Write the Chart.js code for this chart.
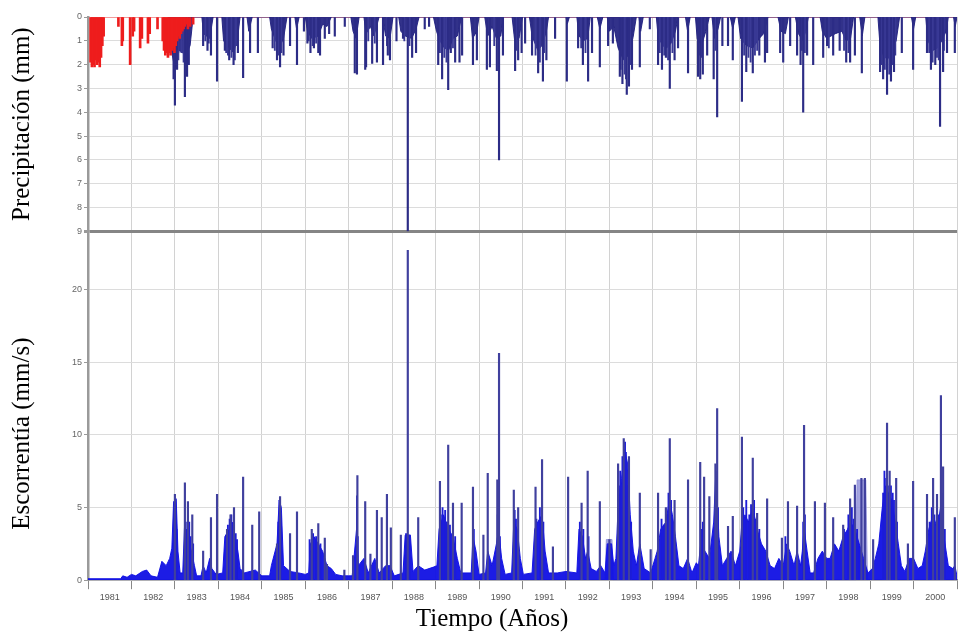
<!DOCTYPE html>
<html>
<head>
<meta charset="utf-8">
<title>Precipitación y escorrentía 1981-2000</title>
<script src="https://cdn.jsdelivr.net/npm/chart.js@4.4.1/dist/chart.umd.min.js"></script>
<style>
  html, body { margin: 0; padding: 0; background: #fff; }
  #wrap { width: 962px; height: 640px; }
</style>
</head>
<body>
<div id="wrap"><canvas id="hydro" width="962" height="640"></canvas></div>
<script>
// [year, value] pairs. Rain in mm (drawn downward), runoff in mm/s.
const yearLabels = [1981, 1982, 1983, 1984, 1985, 1986, 1987, 1988, 1989, 1990,
  1991, 1992, 1993, 1994, 1995, 1996, 1997, 1998, 1999, 2000];
const rainTicks = [0, 1, 2, 3, 4, 5, 6, 7, 8, 9];
const flowTicks = [0, 5, 10, 15, 20];

// warm-up period rain
const rainWarmup = [
  [1981.06, 1.9], [1981.09, 2.1], [1981.12, 2.0], [1981.15, 2.1], [1981.18, 1.8], [1981.21, 2.0],
  [1981.24, 1.9], [1981.27, 2.1], [1981.30, 1.7], [1981.33, 1.2], [1981.36, 0.8],
  [1981.70, 0.4], [1981.78, 1.2], [1981.80, 1.0], [1981.97, 2.0], [1982.03, 0.8], [1982.06, 0.6],
  [1982.20, 1.3], [1982.24, 0.9], [1982.38, 1.1], [1982.42, 0.7], [1982.60, 0.5],
  [1982.72, 1.0], [1982.75, 1.4], [1982.78, 1.6], [1982.81, 1.5], [1982.84, 1.7], [1982.87, 1.5],
  [1982.90, 1.6], [1982.93, 1.4], [1982.96, 1.3], [1982.99, 1.5], [1983.02, 1.2], [1983.05, 1.0],
  [1983.08, 0.8], [1983.11, 0.9], [1983.14, 0.7], [1983.17, 0.6], [1983.20, 0.5], [1983.23, 0.4],
  [1983.27, 0.3], [1983.30, 0.5], [1983.35, 0.4], [1983.42, 0.3]
];

// daily rain peaks
const rainPeaks = [
  [1982.97, 2.6], [1983.00, 3.7], [1983.05, 2.2], [1983.23, 3.35], [1983.28, 2.5], [1983.32, 2.0],
  [1983.65, 1.2], [1983.75, 1.4], [1983.83, 1.6], [1983.97, 2.7], [1984.15, 1.4], [1984.25, 1.8],
  [1984.35, 2.0], [1984.45, 1.5], [1984.57, 2.55], [1984.73, 1.5], [1984.91, 1.5], [1985.25, 1.3],
  [1985.35, 1.8], [1985.42, 2.1], [1985.50, 1.6], [1985.65, 1.2], [1985.81, 2.0], [1985.97, 0.6],
  [1986.05, 1.1], [1986.12, 1.5], [1986.20, 1.3], [1986.30, 1.5], [1986.34, 1.6], [1986.45, 0.9],
  [1986.55, 0.7], [1986.68, 0.8], [1986.91, 0.4],
  [1987.14, 2.35], [1987.19, 2.4], [1987.38, 2.2], [1987.40, 2.1], [1987.54, 1.95], [1987.65, 1.9],
  [1987.79, 2.0], [1987.90, 1.6], [1987.95, 1.8], [1988.10, 1.0], [1988.25, 0.9], [1988.36, 9.0],
  [1988.46, 1.7], [1988.55, 1.5], [1988.75, 0.5], [1988.85, 0.4],
  [1989.06, 2.0], [1989.15, 2.6], [1989.29, 3.05], [1989.35, 1.5], [1989.45, 1.9], [1989.55, 1.9],
  [1989.61, 1.6], [1989.86, 2.0], [1989.95, 1.8], [1990.18, 2.2], [1990.25, 2.1], [1990.41, 2.25],
  [1990.46, 6.0], [1990.55, 1.6], [1990.83, 2.25], [1990.90, 1.8], [1990.98, 1.5],
  [1991.06, 1.1], [1991.22, 1.6], [1991.36, 2.35], [1991.47, 2.7], [1991.55, 1.8], [1991.75, 0.9],
  [1992.02, 2.7], [1992.28, 1.3], [1992.39, 2.0], [1992.51, 2.7], [1992.60, 1.5], [1992.78, 2.1],
  [1992.97, 1.2], [1993.08, 1.1], [1993.24, 2.5], [1993.30, 2.8], [1993.40, 3.25], [1993.45, 2.9],
  [1993.52, 2.2], [1993.70, 2.1], [1993.93, 0.5],
  [1994.12, 2.0], [1994.21, 2.2], [1994.30, 1.7], [1994.39, 3.0], [1994.50, 1.8], [1994.58, 1.3],
  [1994.81, 2.35], [1995.04, 2.5], [1995.09, 2.6], [1995.15, 2.4], [1995.25, 1.6], [1995.40, 2.6],
  [1995.48, 4.2], [1995.60, 1.2], [1995.73, 1.2], [1995.84, 1.8], [1996.05, 3.55], [1996.15, 2.3],
  [1996.30, 2.35], [1996.45, 1.6], [1996.58, 1.9], [1996.63, 1.5], [1996.93, 1.5], [1997.00, 1.9],
  [1997.16, 1.2], [1997.32, 1.6], [1997.40, 2.0], [1997.46, 4.0], [1997.55, 1.6], [1997.69, 2.0],
  [1997.92, 1.7], [1998.01, 1.2], [1998.15, 1.6], [1998.30, 1.4], [1998.45, 1.9], [1998.54, 1.9],
  [1998.65, 1.6], [1998.81, 2.35], [1999.23, 2.3], [1999.30, 2.6], [1999.39, 3.25], [1999.48, 2.7],
  [1999.55, 2.3], [1999.73, 1.5], [1999.99, 2.2], [2000.31, 1.5], [2000.40, 2.2], [2000.50, 2.0],
  [2000.61, 4.6], [2000.68, 2.3], [2000.77, 1.5], [2000.95, 1.5]
];

// smaller rain days inside the wet spells
const rainMinor = [
  [1983.02, 2.0], [1983.08, 1.8], [1983.15, 1.5], [1983.20, 1.9], [1983.26, 2.0], [1983.30, 1.8],
  [1983.70, 1.0], [1983.78, 1.1], [1984.18, 1.5], [1984.22, 1.6], [1984.30, 1.7], [1984.38, 1.8],
  [1984.42, 1.2], [1985.30, 1.4], [1985.38, 1.6], [1985.45, 1.5], [1986.08, 1.0], [1986.17, 1.2],
  [1986.25, 1.1], [1987.45, 1.0], [1987.60, 1.1], [1987.88, 1.2], [1988.28, 1.0], [1988.40, 1.2],
  [1989.10, 1.5], [1989.20, 1.7], [1989.25, 1.9], [1989.40, 1.3], [1990.35, 1.2], [1990.86, 1.4],
  [1991.30, 1.6], [1991.40, 1.9], [1991.50, 1.5], [1992.35, 1.3], [1992.45, 1.5], [1993.26, 2.2],
  [1993.35, 2.4], [1993.38, 2.6], [1993.48, 2.0], [1994.16, 1.5], [1994.26, 1.6], [1994.35, 1.8],
  [1994.45, 1.5], [1995.06, 1.6], [1995.12, 1.7], [1995.44, 1.4], [1996.10, 1.6], [1996.20, 1.7],
  [1996.25, 1.9], [1996.35, 1.6], [1996.40, 1.4], [1997.43, 1.4], [1997.50, 1.5], [1998.05, 1.3],
  [1998.40, 1.4], [1998.50, 1.5], [1999.26, 2.0], [1999.34, 2.2], [1999.44, 2.4], [1999.52, 2.0],
  [1999.58, 1.6], [2000.36, 1.5], [2000.44, 1.9], [2000.54, 1.7], [2000.58, 1.8], [2000.70, 1.4]
];

// rain envelope of the wet spells
const rainBulk = [
  [1982.85, 0], [1982.90, 1.2], [1983.00, 2.2], [1983.10, 1.4], [1983.25, 1.6], [1983.35, 1.2], [1983.42, 0],
  [1983.62, 0], [1983.66, 0.7], [1983.80, 0.9], [1983.88, 0],
  [1984.08, 0], [1984.12, 1.0], [1984.25, 1.3], [1984.35, 1.5], [1984.45, 0.8], [1984.50, 0],
  [1984.66, 0], [1984.70, 0.6], [1984.78, 0],
  [1985.18, 0], [1985.22, 0.5], [1985.32, 1.0], [1985.40, 1.3], [1985.50, 0.9], [1985.58, 0],
  [1985.76, 0], [1985.80, 0.5], [1985.86, 0],
  [1986.00, 0], [1986.05, 0.6], [1986.15, 0.9], [1986.30, 0.8], [1986.40, 0.3], [1986.50, 0.4], [1986.60, 0],
  [1987.05, 0], [1987.10, 0.6], [1987.17, 0.9], [1987.24, 0],
  [1987.35, 0], [1987.40, 0.7], [1987.50, 0.4], [1987.58, 0.8], [1987.70, 0],
  [1987.78, 0], [1987.85, 0.8], [1987.95, 0.9], [1988.02, 0],
  [1988.15, 0], [1988.20, 0.6], [1988.30, 0.8], [1988.45, 0.9], [1988.55, 0.5], [1988.62, 0],
  [1988.95, 0], [1989.02, 0.6], [1989.10, 1.0], [1989.20, 1.3], [1989.30, 1.4], [1989.40, 0.9], [1989.50, 0.8], [1989.60, 0],
  [1989.80, 0], [1989.85, 0.9], [1989.95, 0.6], [1990.00, 0],
  [1990.13, 0], [1990.20, 0.8], [1990.30, 0.4], [1990.40, 0.9], [1990.50, 0.8], [1990.56, 0],
  [1990.76, 0], [1990.82, 1.0], [1990.92, 0.9], [1991.00, 0],
  [1991.16, 0], [1991.22, 0.8], [1991.35, 1.4], [1991.45, 1.2], [1991.55, 0.6], [1991.60, 0],
  [1992.00, 0], [1992.03, 0.3], [1992.08, 0],
  [1992.25, 0], [1992.30, 0.8], [1992.40, 1.0], [1992.50, 0.9], [1992.56, 0],
  [1992.72, 0], [1992.78, 0.5], [1992.85, 0],
  [1992.95, 0], [1993.00, 0.6], [1993.10, 0.4], [1993.20, 1.3], [1993.32, 1.8], [1993.45, 1.6], [1993.55, 0.8], [1993.62, 0],
  [1993.68, 0], [1993.72, 0.6], [1993.78, 0],
  [1994.08, 0], [1994.12, 0.8], [1994.22, 1.2], [1994.32, 1.3], [1994.42, 1.1], [1994.52, 0.6], [1994.58, 0],
  [1994.75, 0], [1994.80, 0.6], [1994.86, 0],
  [1994.98, 0], [1995.02, 0.9], [1995.12, 1.2], [1995.22, 0.6], [1995.30, 0],
  [1995.36, 0], [1995.42, 0.9], [1995.50, 0.5], [1995.56, 0],
  [1995.78, 0], [1995.84, 0.5], [1995.90, 0],
  [1995.96, 0], [1996.02, 0.9], [1996.15, 1.2], [1996.30, 1.3], [1996.45, 0.9], [1996.55, 0.7], [1996.65, 0],
  [1996.88, 0], [1996.95, 0.6], [1997.05, 0.7], [1997.12, 0],
  [1997.28, 0], [1997.35, 0.7], [1997.45, 1.0], [1997.52, 0.6], [1997.58, 0],
  [1997.85, 0], [1997.90, 0.6], [1998.00, 0.9], [1998.10, 0.8], [1998.20, 0.7], [1998.35, 0.6], [1998.45, 1.0], [1998.55, 0.9], [1998.62, 0],
  [1998.76, 0], [1998.82, 0.8], [1998.88, 0],
  [1999.18, 0], [1999.22, 1.0], [1999.30, 1.6], [1999.40, 1.8], [1999.50, 1.4], [1999.60, 1.0], [1999.68, 0],
  [1999.95, 0], [2000.00, 0.5], [2000.05, 0],
  [2000.28, 0], [2000.33, 1.0], [2000.45, 1.4], [2000.55, 1.3], [2000.65, 1.0], [2000.75, 0.6], [2000.80, 0],
  [2000.92, 0], [2000.96, 0.4], [2001.00, 0]
];

// runoff peaks
const flowPeaks = [
  [1983.00, 5.9], [1983.23, 6.7], [1983.30, 5.4], [1983.40, 4.5], [1983.65, 2.0], [1983.83, 4.3],
  [1983.97, 5.9], [1984.20, 3.5], [1984.28, 4.5], [1984.36, 5.0], [1984.57, 7.1], [1984.78, 3.8],
  [1984.94, 4.7], [1985.35, 2.5], [1985.42, 5.75], [1985.65, 3.2], [1985.81, 4.7], [1986.15, 3.5],
  [1986.30, 3.9], [1986.45, 2.9], [1986.50, 1.1], [1986.90, 0.7], [1987.10, 1.7], [1987.20, 7.2],
  [1987.38, 5.4], [1987.50, 1.8], [1987.65, 4.8], [1987.76, 4.3], [1987.88, 5.9], [1987.97, 3.6],
  [1988.20, 3.1], [1988.36, 22.7], [1988.60, 4.3], [1989.10, 6.8], [1989.29, 9.3], [1989.40, 5.3],
  [1989.60, 5.3], [1989.86, 6.4], [1990.10, 3.1], [1990.20, 7.35], [1990.42, 6.9], [1990.46, 15.6],
  [1990.80, 6.2], [1990.90, 5.0], [1991.30, 6.4], [1991.45, 8.3], [1991.70, 2.3], [1992.05, 7.1],
  [1992.36, 5.3], [1992.50, 7.5], [1992.78, 5.4], [1993.00, 2.8], [1993.20, 8.0], [1993.33, 9.75],
  [1993.45, 8.5], [1993.70, 6.0], [1993.95, 2.1], [1994.12, 6.0], [1994.30, 5.0], [1994.39, 9.75],
  [1994.50, 5.5], [1994.81, 6.9], [1995.09, 8.1], [1995.18, 7.1], [1995.30, 5.75], [1995.44, 8.0],
  [1995.48, 11.8], [1995.73, 3.7], [1995.84, 4.4], [1996.05, 9.85], [1996.30, 8.4], [1996.40, 4.6],
  [1996.63, 5.6], [1996.97, 2.9], [1997.11, 5.4], [1997.32, 5.1], [1997.48, 10.65], [1997.73, 5.4],
  [1997.96, 5.3], [1998.15, 4.3], [1998.38, 3.8], [1998.54, 5.6], [1998.65, 6.55], [1998.80, 7.0],
  [1998.88, 7.0], [1999.07, 2.8], [1999.39, 10.8], [1999.45, 7.5], [1999.60, 7.0], [1999.87, 2.5],
  [1999.99, 6.8], [2000.31, 5.9], [2000.45, 7.0], [2000.54, 5.9], [2000.63, 12.7], [2000.68, 7.8],
  [2000.95, 4.3]
];

// smaller runoff days inside the wet spells
const flowMinor = [
  [1982.98, 5.0], [1983.01, 5.5], [1983.02, 4.8], [1983.04, 3.5], [1983.25, 4.0], [1983.27, 3.5],
  [1983.33, 4.0], [1983.36, 3.0], [1983.42, 2.5], [1984.22, 3.8], [1984.26, 4.2], [1984.30, 4.5],
  [1984.33, 3.8], [1984.40, 3.2], [1984.43, 2.8], [1985.38, 4.0], [1985.41, 5.5], [1985.44, 4.5],
  [1986.10, 2.8], [1986.18, 3.2], [1986.25, 3.0], [1986.35, 2.5], [1987.19, 5.8], [1987.21, 3.0],
  [1988.32, 3.2], [1988.38, 3.0], [1988.40, 3.1], [1989.12, 4.5], [1989.16, 5.0], [1989.22, 4.8],
  [1989.26, 4.0], [1989.33, 3.8], [1989.45, 3.0], [1989.88, 3.5], [1990.43, 4.5], [1990.48, 3.0],
  [1990.82, 4.8], [1990.85, 4.2], [1991.32, 4.2], [1991.40, 5.0], [1991.48, 4.0], [1992.32, 4.0],
  [1992.40, 3.5], [1992.52, 3.0], [1993.22, 6.5], [1993.25, 7.5], [1993.30, 8.5], [1993.36, 9.5],
  [1993.38, 8.8], [1993.40, 7.5], [1993.43, 6.5], [1993.50, 4.0], [1994.20, 4.2], [1994.25, 3.8],
  [1994.33, 4.5], [1994.36, 6.0], [1994.42, 5.5], [1994.48, 4.0], [1995.12, 3.5], [1995.15, 4.0],
  [1995.46, 7.0], [1995.50, 5.0], [1996.08, 5.0], [1996.15, 5.5], [1996.22, 4.5], [1996.26, 5.2],
  [1996.33, 5.5], [1996.37, 4.2], [1996.45, 3.5], [1997.05, 3.0], [1997.46, 4.0], [1997.50, 4.5],
  [1998.40, 3.5], [1998.50, 4.5], [1998.58, 5.0], [1998.62, 4.2], [1998.70, 3.5], [1999.30, 6.0],
  [1999.33, 7.5], [1999.37, 7.0], [1999.41, 6.5], [1999.48, 6.5], [1999.52, 6.0], [1999.55, 5.5],
  [1999.62, 4.0], [2000.37, 4.0], [2000.42, 5.0], [2000.48, 4.5], [2000.58, 4.5], [2000.65, 6.0],
  [2000.72, 3.5]
];

// runoff envelope
const flowBulk = [
  [1981.00, 0.1], [1981.75, 0.1], [1981.80, 0.3], [1981.90, 0.2], [1982.00, 0.4], [1982.10, 0.3],
  [1982.25, 0.6], [1982.35, 0.7], [1982.45, 0.3], [1982.60, 0.2], [1982.70, 1.3], [1982.80, 1.0],
  [1982.88, 1.5], [1982.93, 2.2], [1982.97, 5.4], [1983.03, 5.6], [1983.07, 2.0], [1983.12, 0.5],
  [1983.18, 0.5], [1983.22, 3.6], [1983.30, 3.0], [1983.38, 2.0], [1983.45, 1.0], [1983.50, 0.3],
  [1983.60, 0.3], [1983.65, 1.0], [1983.72, 0.5], [1983.80, 1.5], [1983.85, 0.8], [1983.95, 0.4],
  [1984.10, 0.5], [1984.15, 3.0], [1984.25, 3.5], [1984.32, 4.0], [1984.38, 3.0], [1984.45, 2.0],
  [1984.50, 0.8], [1984.60, 0.5], [1984.85, 0.7], [1985.00, 0.3], [1985.18, 0.3], [1985.22, 1.0],
  [1985.35, 2.5], [1985.40, 5.5], [1985.45, 5.0], [1985.50, 1.0], [1985.65, 0.6], [1985.85, 0.5],
  [1986.00, 0.4], [1986.08, 0.5], [1986.12, 2.5], [1986.20, 3.0], [1986.30, 2.5], [1986.40, 2.0],
  [1986.50, 1.0], [1986.60, 0.8], [1986.70, 0.4], [1986.85, 0.3], [1987.00, 0.3], [1987.08, 0.3],
  [1987.12, 1.5], [1987.18, 3.5], [1987.22, 1.0], [1987.35, 1.5], [1987.45, 0.5], [1987.60, 1.5],
  [1987.70, 0.5], [1987.85, 1.0], [1987.95, 1.0], [1988.05, 0.3], [1988.25, 0.5], [1988.30, 3.1],
  [1988.42, 3.1], [1988.48, 0.6], [1988.60, 1.0], [1988.75, 0.7], [1988.95, 0.9], [1989.03, 1.0],
  [1989.08, 3.5], [1989.18, 4.5], [1989.30, 3.5], [1989.40, 3.0], [1989.50, 1.5], [1989.58, 0.5],
  [1989.82, 0.5], [1989.86, 3.0], [1989.93, 2.0], [1990.00, 0.4], [1990.15, 0.5], [1990.20, 2.0],
  [1990.30, 1.0], [1990.40, 2.5], [1990.45, 3.5], [1990.52, 1.5], [1990.60, 0.4], [1990.75, 0.5],
  [1990.80, 4.0], [1990.88, 3.5], [1990.95, 1.5], [1991.02, 0.4], [1991.22, 0.5], [1991.28, 3.5],
  [1991.35, 4.0], [1991.45, 4.5], [1991.52, 2.0], [1991.60, 0.5], [1991.80, 0.5], [1992.00, 0.6],
  [1992.25, 0.5], [1992.30, 3.5], [1992.38, 3.0], [1992.45, 1.5], [1992.50, 2.0], [1992.58, 0.8],
  [1992.70, 0.6], [1992.80, 1.0], [1992.90, 0.5], [1992.95, 2.5], [1993.05, 2.5], [1993.10, 1.0],
  [1993.15, 1.5], [1993.20, 5.0], [1993.28, 7.0], [1993.35, 9.0], [1993.42, 8.0], [1993.48, 4.5],
  [1993.55, 2.0], [1993.62, 1.0], [1993.70, 2.5], [1993.80, 0.8], [1993.95, 0.5], [1994.05, 1.5],
  [1994.10, 2.0], [1994.18, 3.5], [1994.30, 4.0], [1994.38, 5.5], [1994.45, 4.5], [1994.52, 3.0],
  [1994.60, 1.0], [1994.70, 0.8], [1994.80, 1.5], [1994.90, 0.5], [1995.00, 1.2], [1995.05, 1.0],
  [1995.10, 2.5], [1995.20, 2.0], [1995.30, 1.5], [1995.40, 4.0], [1995.45, 7.5], [1995.52, 3.0],
  [1995.60, 1.0], [1995.70, 1.5], [1995.80, 2.0], [1995.90, 1.0], [1996.00, 2.0], [1996.05, 4.0],
  [1996.12, 4.5], [1996.20, 4.0], [1996.30, 5.0], [1996.40, 3.5], [1996.50, 2.5], [1996.60, 2.0],
  [1996.70, 1.0], [1996.80, 0.8], [1996.90, 1.5], [1997.00, 1.0], [1997.08, 2.5], [1997.15, 2.0],
  [1997.25, 1.0], [1997.32, 2.0], [1997.40, 1.0], [1997.44, 2.0], [1997.48, 3.6], [1997.55, 2.0],
  [1997.62, 0.5], [1997.70, 0.5], [1997.80, 1.5], [1997.90, 2.0], [1998.00, 1.5], [1998.08, 1.5],
  [1998.18, 2.5], [1998.28, 2.0], [1998.38, 3.0], [1998.48, 3.5], [1998.55, 4.0], [1998.65, 3.5],
  [1998.75, 2.5], [1998.85, 1.5], [1998.95, 0.5], [1999.05, 0.8], [1999.12, 1.5], [1999.20, 2.5],
  [1999.28, 5.0], [1999.35, 6.5], [1999.42, 6.0], [1999.50, 5.5], [1999.58, 4.0], [1999.65, 2.5],
  [1999.72, 1.0], [1999.80, 0.6], [1999.90, 1.5], [2000.00, 1.5], [2000.10, 0.8], [2000.20, 1.0],
  [2000.27, 2.0], [2000.35, 3.5], [2000.45, 4.5], [2000.55, 3.5], [2000.62, 5.0], [2000.70, 3.0],
  [2000.80, 1.0], [2000.90, 0.8], [2000.95, 1.0], [2001.00, 0.3]
];

// pale recession spells in the runoff series
const flowPale = [
  [1992.90, 0], [1992.93, 2.8], [1993.06, 2.8], [1993.09, 0],
  [1998.66, 0], [1998.70, 6.9], [1998.90, 6.9], [1998.94, 0]
];

const pts = arr => arr.map(([x, y]) => ({ x, y }));
const isYear = v => Math.abs(v - Math.round(v)) < 1e-6;
const small = { family: 'Arial, "Liberation Sans", sans-serif', size: 9 };
const serifFont = '25px "Times New Roman", "Liberation Serif", serif';

const spike = (data, axis, color, order, width) => ({
  type: 'bar', data: pts(data), yAxisID: axis, backgroundColor: color,
  barThickness: width, grouped: false, order
});
const area = (data, axis, color, order) => ({
  type: 'line', data: pts(data), yAxisID: axis, borderColor: color, backgroundColor: color,
  borderWidth: 1, pointRadius: 0, tension: 0, fill: 'origin', order
});

// axis captions, set a little off-centre like the original figure
const axisCaptions = {
  id: 'axisCaptions',
  afterDraw(chart) {
    const { ctx, chartArea: a, scales } = chart;
    ctx.save();
    ctx.fillStyle = '#000';
    ctx.font = serifFont;
    ctx.textAlign = 'center';
    ctx.textBaseline = 'middle';
    ctx.fillText('Tiempo (Años)', a.left + a.width * 0.465, chart.height - 21);
    const side = (text, y) => {
      ctx.save();
      ctx.translate(22, y);
      ctx.rotate(-Math.PI / 2);
      ctx.fillText(text, 0, 0);
      ctx.restore();
    };
    side('Precipitación (mm)', (scales.rain.top + scales.rain.bottom) / 2);
    side('Escorrentía (mm/s)', scales.flow.top + (scales.flow.bottom - scales.flow.top) * 0.58);
    ctx.restore();
  }
};

new Chart(document.getElementById('hydro'), {
  data: {
    datasets: [
      spike(rainWarmup, 'rain', '#ee1d1d', 0, 2),
      spike(rainPeaks, 'rain', '#2c2c86', 1, 1.5),
      spike(rainMinor, 'rain', '#3a3a96', 2, 1.2),
      area(rainBulk, 'rain', 'rgba(28,28,125,0.9)', 3),
      spike(flowPeaks, 'flow', '#40409e', 4, 1.5),
      spike(flowMinor, 'flow', '#1c1cd8', 5, 1.2),
      area(flowBulk, 'flow', 'rgba(16,16,228,0.95)', 6),
      area(flowPale, 'flow', 'rgba(140,140,215,0.8)', 7)
    ]
  },
  options: {
    responsive: false,
    devicePixelRatio: 1,
    animation: false,
    layout: { padding: { top: 17, right: 5, bottom: 34, left: 0 } },
    plugins: { legend: { display: false }, tooltip: { enabled: false } },
    scales: {
      x: {
        type: 'linear', min: 1981, max: 2001, offset: false,
        afterBuildTicks: s => {
          s.ticks = [];
          for (let i = 0; i <= yearLabels.length * 2; i++) s.ticks.push({ value: 1981 + i / 2 });
        },
        ticks: {
          autoSkip: false, maxRotation: 0, color: '#555', font: small, padding: 3,
          callback: v => isYear(v) ? '' : yearLabels[Math.floor(v) - 1981]
        },
        grid: {
          offset: false,
          color: c => c.tick && isYear(c.tick.value) ? '#d2d2d2' : 'rgba(0,0,0,0)',
          tickColor: c => c.tick && isYear(c.tick.value) ? '#888' : 'rgba(0,0,0,0)',
          tickLength: 9
        },
        border: { color: '#8a8a8a', width: 1.5 }
      },
      flow: {
        type: 'linear', position: 'left', stack: 'panels', stackWeight: 350,
        min: 0, max: 24,
        afterBuildTicks: s => { s.ticks = flowTicks.map(value => ({ value })); },
        afterFit: s => { s.width = 88; },
        ticks: { autoSkip: false, color: '#666', font: small, padding: 2 },
        grid: { color: '#dcdcdc', tickColor: '#999', tickLength: 4 },
        border: { color: '#9a9a9a', width: 2.5 }
      },
      rain: {
        type: 'linear', position: 'left', stack: 'panels', stackWeight: 215,
        reverse: true, min: 0, max: 9,
        afterBuildTicks: s => { s.ticks = rainTicks.map(value => ({ value })); },
        afterFit: s => { s.width = 88; },
        ticks: { autoSkip: false, color: '#666', font: small, padding: 2 },
        grid: {
          color: c => c.tick && c.tick.value === 9 ? '#858585' : (c.tick && c.tick.value === 0 ? '#f29a9a' : '#dcdcdc'),
          lineWidth: c => c.tick && c.tick.value === 9 ? 3 : 1,
          tickColor: '#999', tickLength: 4
        },
        border: { color: '#9a9a9a', width: 2.5 }
      }
    }
  },
  plugins: [axisCaptions]
});
</script>
</body>
</html>
